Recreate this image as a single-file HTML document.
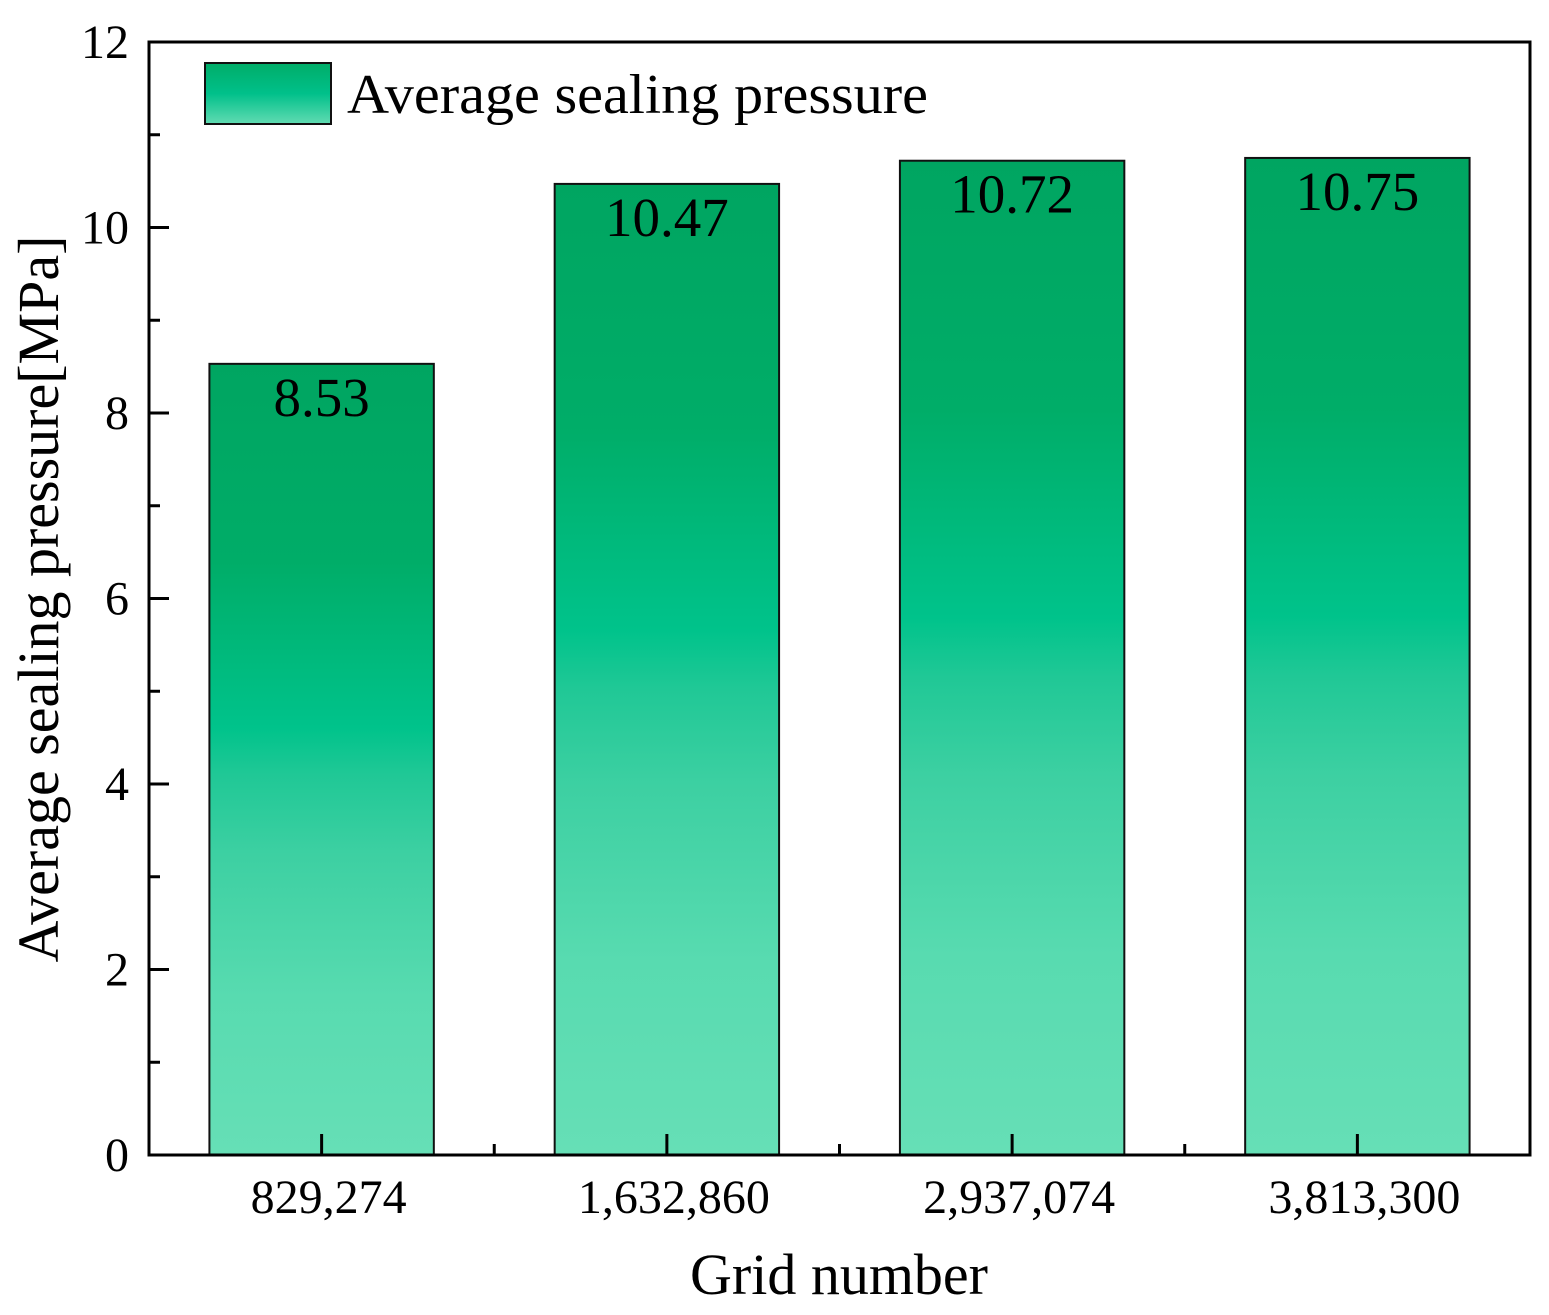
<!DOCTYPE html>
<html><head><meta charset="utf-8"><style>
html,body{margin:0;padding:0;background:#fff;}
svg{display:block;font-family:"Liberation Serif",serif;}
</style></head><body>
<svg id="chart" width="1549" height="1315" viewBox="0 0 1549 1315" xmlns="http://www.w3.org/2000/svg">
<defs>
<linearGradient id="barGrad" x1="0" y1="0" x2="0" y2="1">
<stop offset="0" stop-color="#00a561"/>
<stop offset="0.25" stop-color="#00ad68"/>
<stop offset="0.46" stop-color="#00c38b"/>
<stop offset="0.52" stop-color="#20c896"/>
<stop offset="0.62" stop-color="#3dd0a2"/>
<stop offset="0.8" stop-color="#58dbb0"/>
<stop offset="1" stop-color="#66dfb6"/>
</linearGradient>
<linearGradient id="legGrad" x1="0" y1="0" x2="0" y2="1">
<stop offset="0" stop-color="#00ad68"/>
<stop offset="0.5" stop-color="#00c08a"/>
<stop offset="1" stop-color="#62dbb2"/>
</linearGradient>
</defs>
<g id="bars"></g>
<g id="axes"></g>
<g>
<rect x="205" y="63" width="126" height="61" fill="url(#legGrad)" stroke="#111" stroke-width="2"/>
<text x="347" y="113" font-size="56" textLength="581" lengthAdjust="spacingAndGlyphs">Average sealing pressure</text>
</g>
<text x="839" y="1294" font-size="58" text-anchor="middle">Grid number</text>
<text transform="translate(58,599) rotate(-90)" font-size="58" text-anchor="middle">Average sealing pressure[MPa]</text>
</svg>
<script>
const categories = ["829,274","1,632,860","2,937,074","3,813,300"];
const values = [8.53, 10.47, 10.72, 10.75];
const valueLabels = ["8.53","10.47","10.72","10.75"];
const yTicks = [0,2,4,6,8,10,12];
const yMinorTicks = [1,3,5,7,9,11];

const NS="http://www.w3.org/2000/svg";
const L=149,R=1530,T=42,B=1155,yMax=12;
const band=(R-L)/categories.length;
const yS=v=>B-(v/yMax)*(B-T);
const xC=i=>L+band*(i+0.5);
const bw=band*0.65;
function mk(tag,attrs,parent){const e=document.createElementNS(NS,tag);for(const k in attrs)e.setAttribute(k,attrs[k]);parent.appendChild(e);return e;}
const gb=document.getElementById('bars'),ga=document.getElementById('axes');
values.forEach((v,i)=>{
  const r=mk('rect',{x:xC(i)-bw/2,y:yS(v),width:bw,height:B-yS(v),fill:'url(#barGrad)',stroke:'#111','stroke-width':2},gb);
  
  
  const t=mk('text',{x:xC(i),y:yS(v)+52,'font-size':55,'text-anchor':'middle',fill:'#000'},gb);
  t.textContent=valueLabels[i];
  
  
  const xl=mk('text',{x:xC(i)+7,y:1213,'font-size':48,'text-anchor':'middle'},ga);
  xl.textContent=categories[i];
  
  
  mk('line',{x1:xC(i),x2:xC(i),y1:B,y2:B-21,stroke:'#000','stroke-width':3},ga);
  if(i>0) mk('line',{x1:L+band*i,x2:L+band*i,y1:B,y2:B-11,stroke:'#000','stroke-width':3},ga);
});
const frame=mk('rect',{x:L,y:T,width:R-L,height:B-T,fill:'none',stroke:'#000','stroke-width':3},ga);


yTicks.forEach(v=>{
  mk('line',{x1:L,x2:L+20,y1:yS(v),y2:yS(v),stroke:'#000','stroke-width':3},ga);
  const t=mk('text',{x:129,y:yS(v)+16,'font-size':48,'text-anchor':'end'},ga);
  t.textContent=v;
  
  
});
yMinorTicks.forEach(v=>mk('line',{x1:L,x2:L+11,y1:yS(v),y2:yS(v),stroke:'#000','stroke-width':3},ga));
</script>
</body></html>
